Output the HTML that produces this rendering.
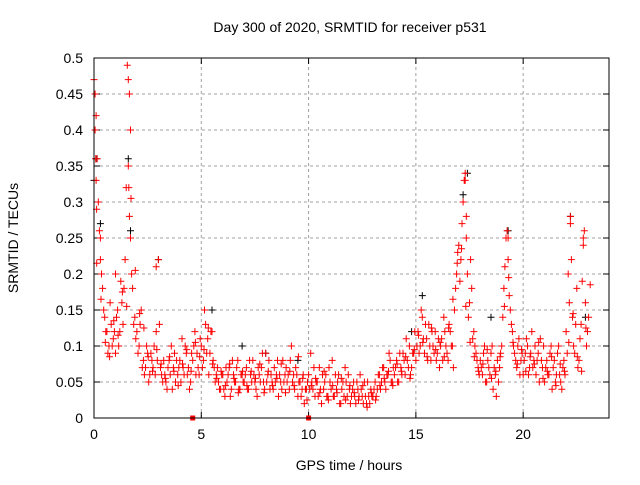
<!DOCTYPE html>
<html><head><meta charset="utf-8"><style>
body{margin:0;background:#fff;}
svg text{font-family:"Liberation Sans",sans-serif;font-size:14px;fill:#000;}
</style></head><body>
<svg id="chart" width="640" height="480" xmlns="http://www.w3.org/2000/svg">
<rect width="640" height="480" fill="#fff"/>
<text x="350" y="32" text-anchor="middle">Day 300 of 2020, SRMTID for receiver p531</text>
<text x="349" y="470" text-anchor="middle">GPS time / hours</text>
<text transform="translate(18,238) rotate(-90)" text-anchor="middle">SRMTID / TECUs</text>
<g id="grid"></g>
<g id="ticks"></g>
<g id="pts"></g>
<rect x="94" y="58" width="515" height="360" fill="none" stroke="#000" stroke-width="1"/>
</svg>
<script>
const xTicks=[0,5,10,15,20];
const yTicks=[0,0.05,0.1,0.15,0.2,0.25,0.3,0.35,0.4,0.45,0.5];
const yTickLabels=["0","0.05","0.1","0.15","0.2","0.25","0.3","0.35","0.4","0.45","0.5"];
const stepHours=0.1;
const redA=[0.47,0.42,0.30,0.22,0.18,0.14,0.12,0.10,0.13,0.11,
0.09,0.15,0.12,0.16,0.18,0.32,0.35,0.25,0.18,0.14,
0.12,0.10,0.15,0.08,0.07,0.09,0.06,0.08,0.10,0.12,
0.22,0.07,0.05,0.06,0.04,0.08,0.10,0.07,0.05,0.06,
0.08,0.11,0.06,0.09,0.07,0.05,0.08,0.12,0.09,0.06,
0.10,0.08,0.13,0.11,0.09,0.12,0.07,0.06,0.05,0.04,
0.06,0.03,0.05,0.07,0.04,0.06,0.05,0.08,0.04,0.06,
0.05,0.07,0.04,0.06,0.08,0.05,0.03,0.06,0.07,0.05,
0.09,0.06,0.04,0.05,0.07,0.06,0.03,0.05,0.08,0.06,
0.05,0.04,0.10,0.06,0.07,0.03,0.05,0.04,0.02,0.04,
0.06,0.09,0.04,0.03,0.05,0.07,0.02,0.04,0.06,0.03,
0.05,0.08,0.03,0.04,0.06,0.02,0.05,0.07,0.03,0.04,
0.03,0.05,0.02,0.04,0.06,0.03,0.05,0.02,0.03,0.04,
0.03,0.05,0.04,0.06,0.05,0.07,0.04,0.06,0.08,0.05,
0.06,0.08,0.05,0.07,0.09,0.06,0.08,0.10,0.07,0.09,
0.08,0.12,0.10,0.14,0.09,0.11,0.13,0.08,0.10,0.12,
0.09,0.07,0.11,0.14,0.10,0.08,0.12,0.10,0.15,0.20,
0.24,0.22,0.30,0.34,0.20,0.16,0.18,0.12,0.09,0.07,
0.08,0.06,0.10,0.05,0.07,0.09,0.04,0.06,0.08,0.07,
0.10,0.18,0.25,0.22,0.15,0.12,0.09,0.07,0.11,0.08,
0.06,0.09,0.10,0.07,0.12,0.08,0.06,0.09,0.11,0.07,
0.05,0.08,0.06,0.10,0.07,0.05,0.09,0.06,0.04,0.08,
0.12,0.20,0.28,0.14,0.09,0.18,0.08,0.13,0.24,0.16,
0.12];
const redB=[0.40,0.36,0.26,0.20,0.15,0.12,0.09,0.16,0.10,0.12,
0.14,0.10,0.19,0.13,0.22,0.49,0.28,0.20,0.13,0.11,
0.09,0.13,0.07,0.06,0.10,0.05,0.09,0.07,0.06,0.08,
0.13,0.06,0.08,0.05,0.07,0.06,0.04,0.09,0.08,0.07,
0.05,0.07,0.10,0.06,0.04,0.09,0.10,0.06,0.07,0.11,
0.07,0.15,0.09,0.06,0.12,0.08,0.05,0.07,0.04,0.06,
0.04,0.07,0.06,0.03,0.08,0.05,0.07,0.04,0.06,0.05,
0.06,0.04,0.08,0.05,0.06,0.04,0.07,0.05,0.09,0.04,
0.05,0.08,0.06,0.04,0.05,0.08,0.06,0.04,0.05,0.07,
0.06,0.08,0.05,0.04,0.06,0.05,0.03,0.06,0.04,0.05,
0.04,0.05,0.07,0.05,0.03,0.04,0.06,0.05,0.03,0.07,
0.04,0.03,0.06,0.05,0.02,0.04,0.03,0.05,0.06,0.02,
0.04,0.03,0.05,0.03,0.04,0.02,0.03,0.05,0.02,0.03,
0.04,0.03,0.06,0.04,0.07,0.05,0.06,0.09,0.05,0.07,
0.07,0.05,0.09,0.06,0.08,0.11,0.07,0.06,0.09,0.12,
0.10,0.09,0.15,0.11,0.13,0.08,0.10,0.12,0.09,0.08,
0.11,0.10,0.08,0.12,0.09,0.13,0.10,0.07,0.18,0.23,
0.19,0.27,0.33,0.25,0.14,0.22,0.11,0.10,0.08,0.06,
0.07,0.09,0.05,0.08,0.06,0.10,0.07,0.03,0.05,0.09,
0.14,0.21,0.26,0.17,0.13,0.10,0.08,0.10,0.06,0.09,
0.08,0.11,0.06,0.09,0.07,0.10,0.08,0.05,0.08,0.10,
0.07,0.06,0.09,0.04,0.08,0.06,0.10,0.05,0.07,0.06,
0.09,0.16,0.22,0.10,0.13,0.07,0.11,0.19,0.26,0.10,
0.14];
const stepC=0.2;
const redC=[0.215,0.165,0.105,0.085,0.135,0.115,0.175,0.155,0.305,0.205,
0.145,0.125,0.085,0.065,0.095,0.075,0.055,0.085,0.065,0.045,
0.075,0.095,0.065,0.105,0.085,0.095,0.125,0.075,0.055,0.065,
0.045,0.075,0.055,0.035,0.065,0.045,0.065,0.055,0.075,0.035,
0.065,0.045,0.055,0.075,0.035,0.065,0.045,0.085,0.055,0.025,
0.045,0.055,0.035,0.065,0.025,0.045,0.035,0.055,0.025,0.045,
0.035,0.025,0.045,0.015,0.035,0.025,0.045,0.055,0.065,0.045,
0.075,0.065,0.085,0.055,0.095,0.115,0.105,0.085,0.125,0.095,
0.105,0.085,0.125,0.165,0.215,0.235,0.155,0.105,0.085,0.065,
0.075,0.095,0.055,0.065,0.085,0.155,0.195,0.105,0.075,0.095,
0.065,0.085,0.075,0.105,0.055,0.065,0.085,0.045,0.075,0.065,
0.105,0.145,0.085,0.065,0.125,0.185];
const extraTimes=[0.05,0.08,0.1,0.12,1.6,1.65,1.7,1.62,17.3,17.35,19.3,22.2,22.8,0.3,1.0,2.9];
const extraValues=[0.45,0.36,0.33,0.29,0.47,0.45,0.40,0.32,0.33,0.28,0.25,0.27,0.25,0.25,0.20,0.21];
const blackTimes=[0.0,0.1,0.3,1.6,1.7,3.0,5.5,8.0,9.5,15.3,17.2,17.4,18.5,19.3,22.2,22.9,14.8,6.9];
const blackValues=[0.33,0.36,0.27,0.36,0.26,0.22,0.15,0.09,0.08,0.17,0.31,0.34,0.14,0.26,0.28,0.14,0.12,0.10];
const squareTimes=[4.6,10.0];

const X0=94,X1=609,Y0=418,Y1=58;
const xs=t=>X0+(X1-X0)*t/24;
const ys=v=>Y0-(Y0-Y1)*v/0.5;
const NS="http://www.w3.org/2000/svg";
function mk(tag,attrs,parent){const e=document.createElementNS(NS,tag);for(const k in attrs)e.setAttribute(k,attrs[k]);parent.appendChild(e);return e;}
const grid=document.getElementById('grid'),ticks=document.getElementById('ticks'),pts=document.getElementById('pts');
xTicks.forEach(t=>{const x=xs(t);
 if(t>0){const g=mk('line',{x1:x,y1:Y0,x2:x,y2:Y1,stroke:'#a0a0a0','stroke-dasharray':'3,3'},grid);
 
 }
 mk('line',{x1:x,y1:Y0,x2:x,y2:Y0-6,stroke:'#000'},ticks);
 mk('line',{x1:x,y1:Y1,x2:x,y2:Y1+6,stroke:'#000'},ticks);
 const l=mk('text',{x:x,y:Y0+21,'text-anchor':'middle'},ticks);l.textContent=String(t);
 
 });
yTicks.forEach((v,i)=>{const y=ys(v);
 if(i>0&&i<yTicks.length-1){const g=mk('line',{x1:X0,y1:y,x2:X1,y2:y,stroke:'#a0a0a0','stroke-dasharray':'3,3'},grid);
 
 }
 mk('line',{x1:X0,y1:y,x2:X0+6,y2:y,stroke:'#000'},ticks);
 mk('line',{x1:X1,y1:y,x2:X1-6,y2:y,stroke:'#000'},ticks);
 const l=mk('text',{x:X0-11,y:y+5,'text-anchor':'end'},ticks);l.textContent=yTickLabels[i];
 
 });
let dR='',dK='';
const plus=(t,v)=>{const x=xs(t),y=ys(v);return `M${(x-3.5).toFixed(1)} ${y.toFixed(1)}h7M${x.toFixed(1)} ${(y-3.5).toFixed(1)}v7`;};
blackValues.forEach((v,i)=>{dK+=plus(blackTimes[i],v);});
redA.forEach((v,i)=>{dR+=plus(i*stepHours,v);});
redB.forEach((v,i)=>{dR+=plus(i*stepHours+stepHours/2,v);});
redC.forEach((v,i)=>{dR+=plus(i*stepC+0.125,v);});
extraValues.forEach((v,i)=>{dR+=plus(extraTimes[i],v);});
const pk=mk('path',{d:dK,stroke:'#000',fill:'none','stroke-width':1},pts);


const pr=mk('path',{d:dR,stroke:'#f00',fill:'none','stroke-width':1},pts);


squareTimes.forEach(t=>{const r=mk('rect',{x:xs(t)-2.5,y:Y0-2.5,width:5,height:5,fill:'#f00'},pts);
 
 });
</script>
</body></html>
